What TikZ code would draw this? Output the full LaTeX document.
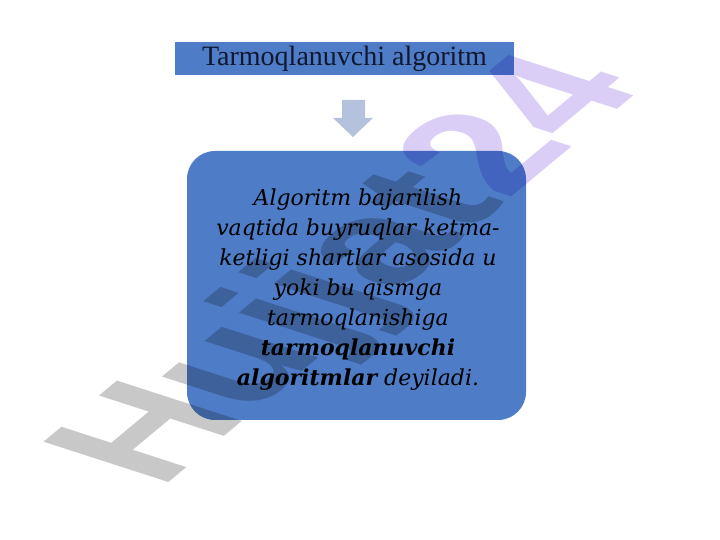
\documentclass[tikz,border=0pt]{standalone}
\usepackage{fontspec}
\setmainfont{Liberation Serif}
\newfontfamily\bodyfont{DejaVu Serif}
\newfontfamily\wmfont{Liberation Sans}
\definecolor{boxblue}{RGB}{78,124,198}
\definecolor{arrowblue}{RGB}{180,194,222}
\definecolor{titleink}{RGB}{16,24,48}
\definecolor{wmgrey}{RGB}{200,200,200}
\definecolor{wmviolet}{RGB}{218,206,247}
\tikzset{
  titlebox/.style={fill=boxblue, minimum width=339pt, minimum height=33pt, inner sep=0pt,
    font=\fontsize{28}{30}\selectfont, text=titleink},
  mainbox/.style={fill=boxblue, rounded corners=28pt, minimum width=339pt, minimum height=269pt, inner sep=0pt},
  bodytext/.style={align=center, inner sep=0pt, text=black,
    font=\bodyfont\itshape\fontsize{22}{30}\selectfont},
  blockarrow/.style={fill=arrowblue, draw=none},
  wm/.style={anchor=base west, inner sep=0pt, transform shape,
    font=\wmfont\bfseries\fontsize{100}{100}\selectfont}
}
\begin{document}
\begin{tikzpicture}[x=1pt,y=1pt]
\useasboundingbox (0,0) rectangle (720,540);
\fill[white] (0,0) rectangle (720,540);
% title
\node[titlebox] (title) at (344.5,481.5) {Tarmoqlanuvchi algoritm};
% block arrow
\fill[blockarrow] (342,440) -- (365,440) -- (365,422) -- (373,422) -- (353,403) -- (333,422) -- (342,422) -- cycle;
% main box
\node[mainbox] (box) at (356.5,254.5) {};
\node[bodytext] (body) at (358,250) {Algoritm bajarilish\\vaqtida buyruqlar ketma-\\ketligi shartlar asosida u\\yoki bu qismga\\tarmoqlanishiga\\{\bfseries tarmoqlanuvchi}\\{\bfseries algoritmlar} deyiladi.};
% watermark
\begin{scope}[blend mode=multiply]
\begin{scope}[cm={1.25,1.04,-1.816,0.587,(160,50)}]
\node[wm] (wmark) at (0,0) {\textcolor{wmgrey}{Hujjat}\textcolor{wmviolet}{24}};
\end{scope}
\end{scope}
\end{tikzpicture}
\end{document}
